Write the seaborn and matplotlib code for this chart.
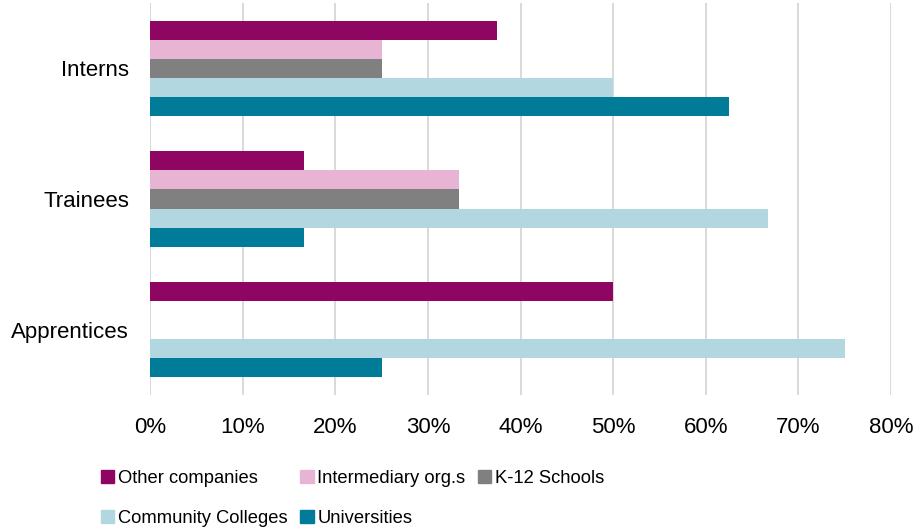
import pandas as pd
import matplotlib
matplotlib.use("Agg")
import matplotlib.pyplot as plt
import seaborn as sns
from matplotlib.ticker import PercentFormatter, MultipleLocator
from matplotlib.patches import Patch

# Dati
roles = ["Interns", "Trainees", "Apprentices"]
sources = ["Other companies", "Intermediary org.s", "K-12 Schools",
           "Community Colleges", "Universities"]
other_companies = [0.375, 0.1667, 0.50]
intermediary = [0.25, 0.3333, 0.0]
k12_schools = [0.25, 0.3333, 0.0]
community_colleges = [0.50, 0.6667, 0.75]
universities = [0.625, 0.1667, 0.25]
colors = ["#8E0562", "#E8B4D3", "#808080", "#B2D7E0", "#007B98"]

series = [other_companies, intermediary, k12_schools, community_colleges, universities]
rows = []
for src, vals in zip(sources, series):
    for role, v in zip(roles, vals):
        rows.append({"role": role, "source": src, "share": v})
df = pd.DataFrame(rows)

sns.set_theme(style="white")
plt.rcParams["font.family"] = ["Liberation Sans", "DejaVu Sans"]

fig = plt.figure(figsize=(9.16, 5.32), dpi=100)
ax = fig.add_axes([150 / 916, 1 - 395 / 532, 741 / 916, 392 / 532])

sns.barplot(data=df, y="role", x="share", hue="source", order=roles,
            hue_order=sources, palette=colors, orient="h", width=0.73,
            saturation=1, linewidth=0, ax=ax, legend=False)

ax.set_xlim(0, 0.8)
ax.xaxis.set_major_locator(MultipleLocator(0.1))
ax.xaxis.set_major_formatter(PercentFormatter(1, decimals=0))
ax.set_axisbelow(True)
ax.grid(axis="x", color="#D9D9D9", linewidth=1.4)
ax.grid(axis="y", visible=False)
for s in ax.spines.values():
    s.set_visible(False)
ax.tick_params(axis="both", length=0, labelsize=16, colors="#000000")
ax.tick_params(axis="y", pad=15)
ax.tick_params(axis="x", pad=16)
ax.set_xlabel("")
ax.set_ylabel("")

# legenda: ordine per righe (Excel)
handles = [Patch(color=c) for c in colors]
order = [0, 3, 1, 4, 2]
fig.legend([handles[i] for i in order], [sources[i] for i in order],
           loc="upper left", bbox_to_anchor=(101 / 916, 1 - 470 / 532),
           ncol=3, frameon=False, fontsize=13.2, handlelength=0.72,
           handleheight=0.72, handletextpad=0.2, columnspacing=0.7,
           labelspacing=1.25, borderpad=0, borderaxespad=0,
           labelcolor="#000000")

fig.savefig("out.png", dpi=100)
